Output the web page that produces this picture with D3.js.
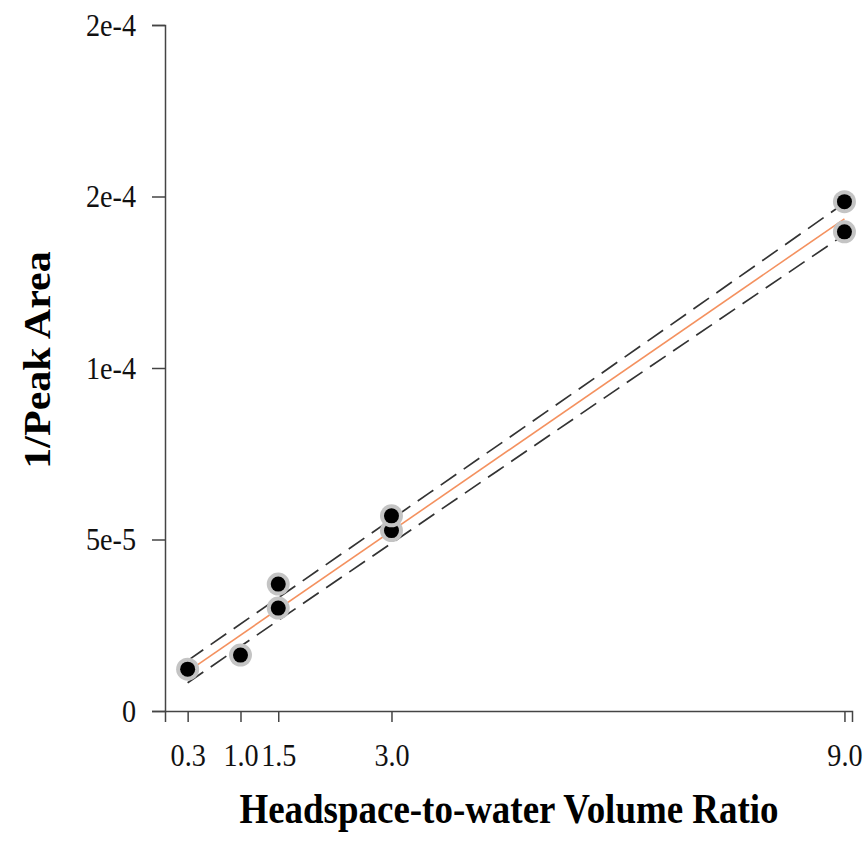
<!DOCTYPE html>
<html>
<head>
<meta charset="utf-8">
<script src="https://cdn.jsdelivr.net/npm/d3@7"></script>
<style>
    body { margin: 0; background: #fff; }
    svg { display: block; }
</style>
</head>
<body>
<svg width="868" height="844"></svg>
<script>
// measured points (ratio, 1/peak area)
const ratioX = [0.3, 1.0, 1.5, 1.5, 3.0, 3.0, 9.0, 9.0];
const invArea = [1.22e-5, 1.63e-5, 3.70e-5, 3.00e-5, 5.26e-5, 5.69e-5, 1.485e-4, 1.397e-4];

// fitted line and band
const fitX = [0.3, 9.0];
const fitY = [1.15e-5, 1.435e-4];
const bandX = [0.3, 1.5, 3.0, 6.0, 9.0];
const bandUpper = [1.47e-5, 3.30e-5, 5.59e-5, 1.018e-4, 1.481e-4];
const bandLower = [0.82e-5, 2.64e-5, 4.89e-5, 0.940e-4, 1.389e-4];

const xTicks = [0.3, 1.0, 1.5, 3.0, 9.0];
const yTicks = [0, 5e-5, 1e-4, 1.5e-4, 2e-4];
const yTickLabels = ["0", "5e-5", "1e-4", "2e-4", "2e-4"];

const xTitle = "Headspace-to-water Volume Ratio";
const yTitle = "1/Peak Area";

function drawChart() {

    const svg = d3.select("svg");

    const attr = {
        left: 165,
        right: 852,
        top: 25,
        bottom: 711,
        squeeze: 0.88   // glyphs in the original are narrow
    };

    const scX = d3.scaleLinear()
        .domain([0, 9.1])
        .range([attr.left, attr.right]);

    const scY = d3.scaleLinear()
        .domain([0, 2e-4])
        .range([attr.bottom, attr.top]);

    const font = "'Liberation Serif', 'Times New Roman', serif";

    // axes
    const axX = svg.append("g")
        .attr("transform", `translate(0,${attr.bottom})`)
        .call(d3.axisBottom(scX)
            .tickValues(xTicks)
            .tickFormat(d3.format(".1f"))
            .tickSizeOuter(0)
            .tickSize(11)
            .tickPadding(21));

    const axY = svg.append("g")
        .attr("transform", `translate(${attr.left},0)`)
        .call(d3.axisLeft(scY)
            .tickValues(yTicks)
            .tickFormat((d, i) => yTickLabels[i])
            .tickSizeOuter(0)
            .tickSize(13)
            .tickPadding(20));

    [axX, axY].forEach(ax => {
        ax.select(".domain").attr("stroke", "#444").attr("stroke-width", 1.5);
        ax.selectAll(".tick line").attr("stroke", "#444").attr("stroke-width", 1.5);
        ax.selectAll(".tick text")
            .attr("fill", "#111")
            .attr("transform", `scale(${attr.squeeze},1)`)
            .style("font-family", font)
            .style("font-size", "32px");
    });

    // band
    const bandLine = d3.line()
        .x(d => scX(d[0]))
        .y(d => scY(d[1]))
        .curve(d3.curveMonotoneX);

    [bandUpper, bandLower].forEach(vals => {
        svg.append("path")
            .datum(bandX.map((x, i) => [x, vals[i]]))
            .attr("fill", "none")
            .attr("stroke", "#333")
            .attr("stroke-width", 1.7)
            .attr("stroke-dasharray", "19,9")
            .attr("d", bandLine);
    });

    // fit line
    svg.append("path")
        .datum(fitX.map((x, i) => [x, fitY[i]]))
        .attr("fill", "none")
        .attr("stroke", "#f4915f")
        .attr("stroke-width", 1.6)
        .attr("d", d3.line().x(d => scX(d[0])).y(d => scY(d[1])));

    // points
    const pts = svg.append("g")
        .selectAll("g")
        .data(ratioX.map((x, i) => ({ x: x, y: invArea[i] })))
        .enter()
        .append("g")
        .attr("transform", d => `translate(${scX(d.x)},${scY(d.y)})`);

    pts.append("circle")
        .attr("r", 11.5)
        .style("fill", "#c4c4c4");

    pts.append("circle")
        .attr("r", 7.5)
        .style("fill", "#000");

    // titles
    svg.append("text")
        .attr("transform", `translate(509,823) scale(${attr.squeeze},1)`)
        .attr("text-anchor", "middle")
        .style("font-family", font)
        .style("font-weight", "bold")
        .style("font-size", "42px")
        .text(xTitle);

    svg.append("text")
        .attr("transform", `translate(50,360) scale(${attr.squeeze},1) rotate(-90)`)
        .attr("text-anchor", "middle")
        .style("font-family", font)
        .style("font-weight", "bold")
        .style("font-size", "42px")
        .text(yTitle);
}

drawChart();
</script>
</body>
</html>
